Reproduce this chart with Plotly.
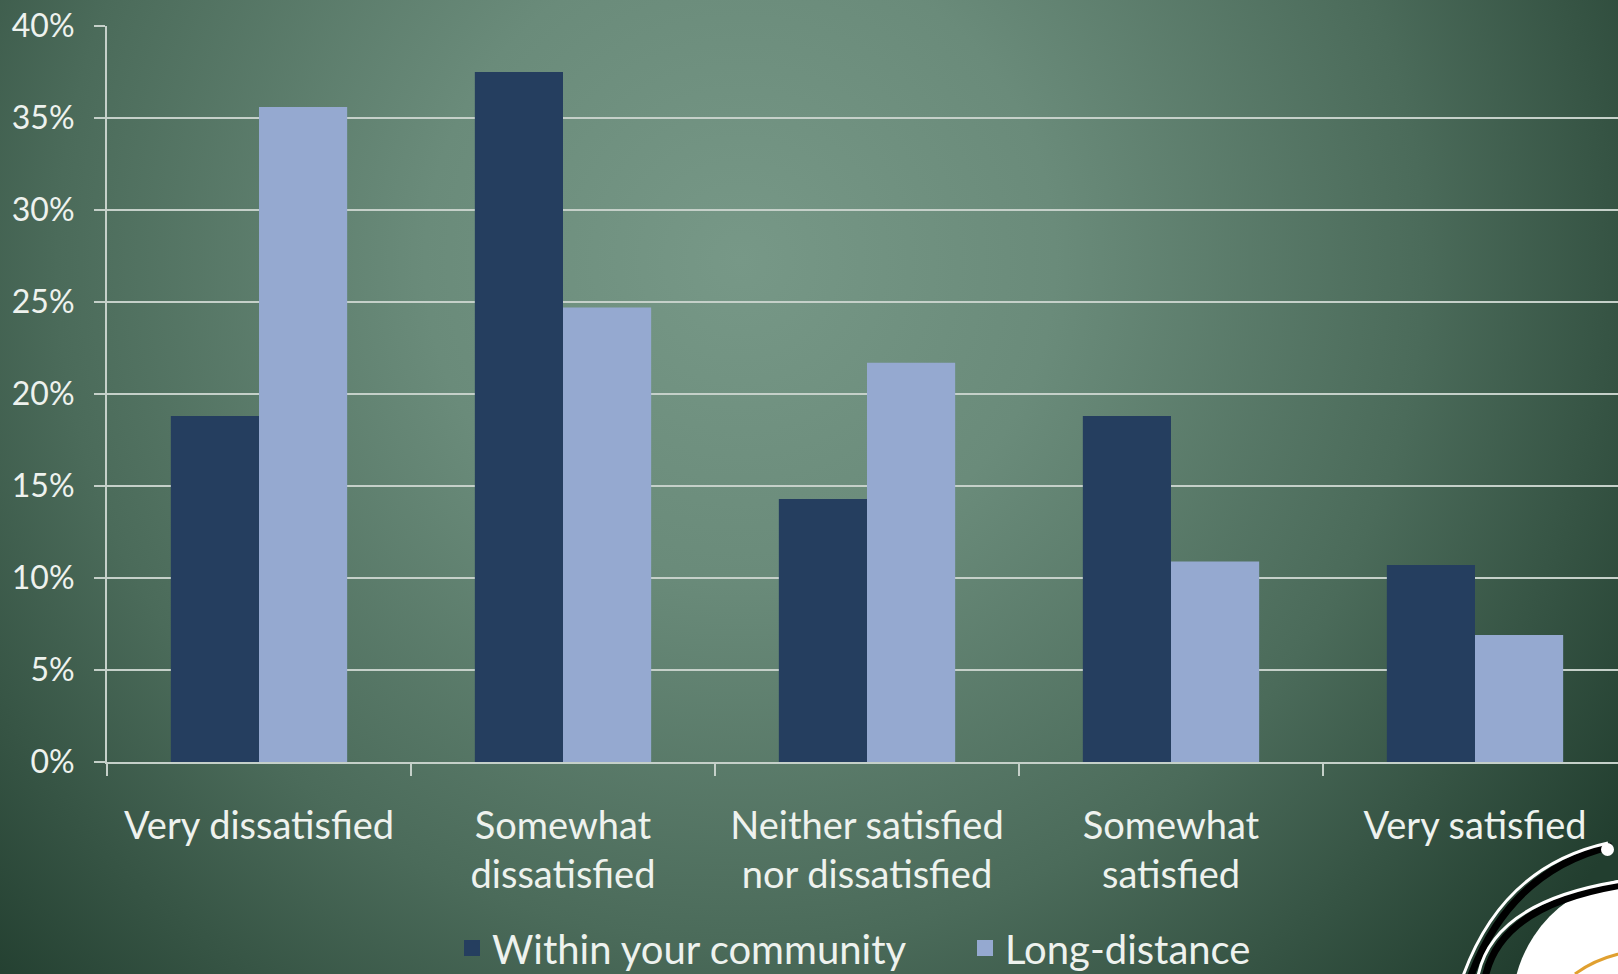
import base64
import plotly.graph_objects as go

categories = ["Very dissatisfied", "Somewhat<br>dissatisfied", "Neither satisfied<br>nor dissatisfied",
              "Somewhat<br>satisfied", "Very satisfied"]
within_community = [18.8, 37.5, 14.3, 18.8, 10.7]
long_distance = [35.6, 24.7, 21.7, 10.9, 6.9]
y_ticks = [0, 5, 10, 15, 20, 25, 30, 35, 40]
y_tick_labels = ["0%", "5%", "10%", "15%", "20%", "25%", "30%", "35%", "40%"]
series_names = ["Within your community", "Long-distance"]
series_colors = ["#253e5f", "#95a9d0"]

W, H = 1618, 974
ML, MR, MT, MB = 107, 0, 26, 212
PW, PH = W - ML - MR, H - MT - MB

def px(x):
    return (x - ML) / PW

def py(y):
    return (H - MB - y) / PH

FONT = "Lato"
TXT = "#eef2ee"
AX = "#c5d0c9"

svg = f'''<svg xmlns="http://www.w3.org/2000/svg" width="{W}" height="{H}" viewBox="0 0 {W} {H}">
<defs><radialGradient id="g" gradientUnits="userSpaceOnUse" cx="740" cy="260" r="1050">
<stop offset="0" stop-color="#779887"/>
<stop offset="0.3" stop-color="#6a8b7a"/>
<stop offset="0.65" stop-color="#4b6b5a"/>
<stop offset="1" stop-color="#223e2f"/>
</radialGradient></defs>
<rect width="{W}" height="{H}" fill="url(#g)"/></svg>'''
bg_src = "data:image/svg+xml;base64," + base64.b64encode(svg.encode()).decode()

fig = go.Figure()
fig.add_trace(go.Bar(x=categories, y=within_community, name=series_names[0],
                     marker=dict(color=series_colors[0], line=dict(width=0)),
                     legendgroup="a", showlegend=False))
fig.add_trace(go.Bar(x=categories, y=long_distance, name=series_names[1],
                     marker=dict(color=series_colors[1], line=dict(width=0)),
                     legendgroup="b", showlegend=False))
# legend-only entries with larger square swatches
for nm, col, grp in zip(series_names, series_colors, ["a", "b"]):
    fig.add_trace(go.Scatter(x=[None], y=[None], mode="markers", name=nm, legendgroup=grp,
                             marker=dict(symbol="square", size=20, color=col), showlegend=True))

shapes = []
# decorative logo bottom-right
shapes.append(dict(type="circle", xref="paper", yref="paper",
                   x0=px(1512), x1=px(1770), y0=py(1140), y1=py(878),
                   fillcolor="white", line=dict(width=0), layer="above"))
shapes.append(dict(type="path", xref="paper", yref="paper", layer="above",
                   path=f"M {px(1575)},{py(974)} Q {px(1600)},{py(955)} {px(1640)},{py(950)}",
                   line=dict(color="#e0a030", width=3)))
def arc(p0, c, p1, color, width):
    return dict(type="path", xref="paper", yref="paper", layer="above",
                path=f"M {px(p0[0])},{py(p0[1])} Q {px(c[0])},{py(c[1])} {px(p1[0])},{py(p1[1])}",
                line=dict(color=color, width=width))
shapes.append(arc((1470, 978), (1510, 870), (1612, 846), "black", 7))
shapes.append(arc((1463, 976), (1503, 866), (1608, 843), "white", 3))
shapes.append(arc((1485, 978), (1500, 905), (1622, 885), "black", 7))
shapes.append(arc((1478, 976), (1493, 901), (1622, 881), "white", 3))
shapes.append(dict(type="circle", xref="paper", yref="paper", layer="above",
                   x0=px(1601), x1=px(1614), y0=py(856), y1=py(843),
                   fillcolor="white", line=dict(width=0)))

fig.update_layout(
    width=W, height=H,
    margin=dict(l=ML, r=MR, t=MT, b=MB, pad=0, autoexpand=False),
    paper_bgcolor="#4f6f5e",
    plot_bgcolor="rgba(0,0,0,0)",
    barmode="group", bargap=0.42, bargroupgap=0,
    font=dict(family=FONT, color=TXT),
    showlegend=True,
    legend=dict(orientation="h", xref="container", yref="container",
                x=452 / W, xanchor="left", y=(H - 948) / H, yanchor="middle",
                font=dict(size=40, family=FONT, color=TXT), bgcolor="rgba(0,0,0,0)",
                itemsizing="trace", tracegroupgap=0,
                entrywidth=468, entrywidthmode="pixels"),
    images=[dict(source=bg_src, xref="paper", yref="paper",
                 x=-ML / PW, y=1 + MT / PH, sizex=W / PW, sizey=H / PH,
                 xanchor="left", yanchor="top", sizing="stretch", layer="below")],
    shapes=shapes,
)
fig.update_xaxes(
    type="category", range=[-0.5, -0.5 + PW / 304.0], automargin=False,
    showline=True, linecolor=AX, linewidth=2,
    ticks="outside", tickson="boundaries", ticklen=12, tickwidth=2, tickcolor=AX,
    tickfont=dict(size=38, family=FONT, color=TXT),
    ticklabelstandoff=29, showgrid=False,
)
fig.update_yaxes(
    range=[0, 40], tickvals=y_ticks, ticktext=y_tick_labels, automargin=False,
    showline=True, linecolor=AX, linewidth=2,
    ticks="outside", ticklen=11, tickwidth=2, tickcolor=AX,
    showgrid=True, gridcolor=AX, gridwidth=2, zeroline=False,
    tickfont=dict(size=32, family=FONT, color=TXT), ticklabelstandoff=13,
)

fig.write_html("out.html")
